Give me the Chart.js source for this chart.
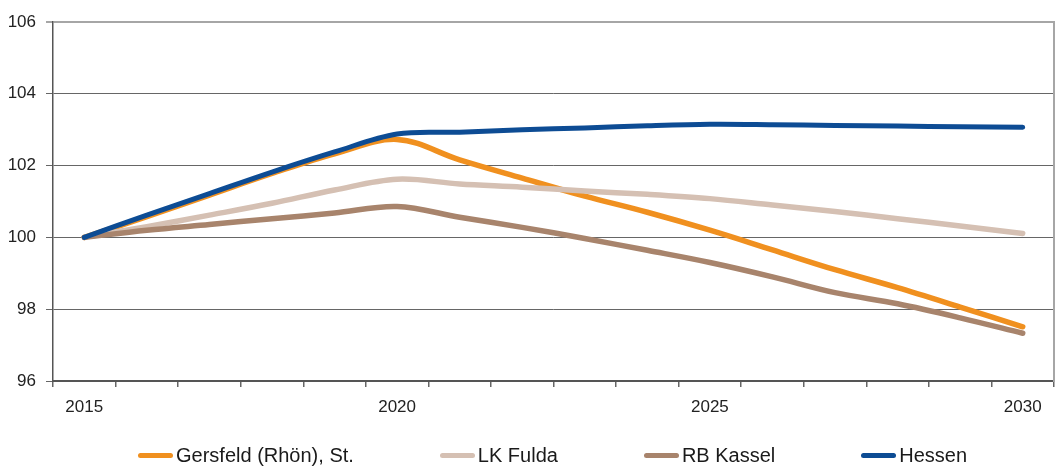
<!DOCTYPE html>
<html>
<head>
<meta charset="utf-8">
<script src="https://cdn.jsdelivr.net/npm/chart.js@4/dist/chart.umd.min.js"></script>
<style>
    body { margin: 0; background: #fff; }
    #wrap { position: relative; width: 1055px; height: 468px; }
    #legend {
        position: absolute; left: 0; top: 443px; width: 1055px; height: 24px;
        display: flex; align-items: center; padding-left: 138px; box-sizing: border-box;
        font: 20px "Liberation Sans", Arial, sans-serif; color: #1a1a1a; line-height: 24px;
    }
    .item { display: flex; align-items: center; margin-right: 86px; }
    .mark { width: 35px; height: 5px; border-radius: 3px; margin-right: 3px; }
</style>
</head>
<body>
<div id="wrap">
    <canvas id="chart" width="1055" height="468"></canvas>
    <div id="legend"></div>
</div>
<script>
const years = ['2015', '2016', '2017', '2018', '2019', '2020', '2021', '2022', '2023', '2024', '2025', '2026', '2027', '2028', '2029', '2030'];
const shownYears = ['2015', '2020', '2025', '2030'];

const seriesNames = ['Gersfeld (Rhön), St.', 'LK Fulda', 'RB Kassel', 'Hessen'];
const seriesColors = ['#F0901F', '#D5C0B3', '#A8846C', '#0D4C94'];

const gersfeld = [100, 100.58, 101.18, 101.78, 102.33, 102.73, 102.16, 101.65, 101.15, 100.7, 100.2, 99.65, 99.1, 98.6, 98.06, 97.51];
const lkFulda = [100, 100.3, 100.62, 100.95, 101.32, 101.62, 101.49, 101.4, 101.29, 101.2, 101.08, 100.9, 100.72, 100.52, 100.32, 100.11];
const rbKassel = [100, 100.2, 100.36, 100.52, 100.68, 100.86, 100.56, 100.28, 99.97, 99.64, 99.3, 98.9, 98.46, 98.15, 97.76, 97.33];
const hessen = [100, 100.62, 101.22, 101.82, 102.38, 102.88, 102.93, 103.0, 103.05, 103.11, 103.15, 103.14, 103.12, 103.1, 103.08, 103.07];

const seriesValues = [gersfeld, lkFulda, rbKassel, hessen];
const fontFamily = '"Liberation Sans", Arial, sans-serif';

const datasets = seriesValues.map((values, i) => ({
    label: seriesNames[i],
    data: values,
    borderColor: seriesColors[i],
    borderWidth: i === 3 ? 5 : 5.5,
    borderCapStyle: 'round',
    borderJoinStyle: 'round',
    pointRadius: 0,
    tension: 0.35,
    fill: false,
    order: seriesValues.length - i
}));

new Chart(document.getElementById('chart').getContext('2d'), {
    type: 'line',
    data: { labels: years, datasets },
    options: {
        responsive: false,
        animation: false,
        layout: { padding: { top: 22, right: 1, bottom: 37, left: 0 } },
        plugins: {
            legend: { display: false },
            tooltip: { enabled: false }
        },
        scales: {
            x: {
                offset: true,
                grid: {
                    offset: true,
                    drawOnChartArea: false,
                    tickLength: 6,
                    color: '#666',
                    lineWidth: 1.5
                },
                border: { color: '#555', width: 2 },
                ticks: {
                    autoSkip: false,
                    maxRotation: 0,
                    padding: 10,
                    color: '#222',
                    font: { family: fontFamily, size: 17 },
                    callback: function (value) {
                        const label = this.getLabelForValue(value);
                        return shownYears.includes(label) ? label : '';
                    }
                },
                afterFit: scale => { scale.height = 50; }
            },
            y: {
                min: 96,
                max: 106,
                grid: {
                    tickLength: 7,
                    color: ctx => ctx.tick && ctx.tick.value === 106 ? '#a6a6a6' : '#666',
                    lineWidth: ctx => ctx.tick && ctx.tick.value === 106 ? 2 : 1
                },
                border: { color: '#555', width: 1.5 },
                ticks: {
                    stepSize: 2,
                    padding: 10,
                    color: '#222',
                    font: { family: fontFamily, size: 17 }
                },
                afterFit: scale => { scale.width = 53; }
            },
            yRight: {
                position: 'right',
                min: 96,
                max: 106,
                grid: { drawOnChartArea: false, drawTicks: false },
                ticks: { display: false },
                border: { color: '#a6a6a6', width: 2 },
                afterFit: scale => { scale.width = 0; }
            }
        }
    }
});

const legend = document.getElementById('legend');
seriesNames.forEach((name, i) => {
    const item = document.createElement('div');
    item.className = 'item';
    const mark = document.createElement('span');
    mark.className = 'mark';
    mark.style.background = seriesColors[i];
    const text = document.createElement('span');
    text.textContent = name;
    item.appendChild(mark);
    item.appendChild(text);
    legend.appendChild(item);
});
</script>
</body>
</html>
